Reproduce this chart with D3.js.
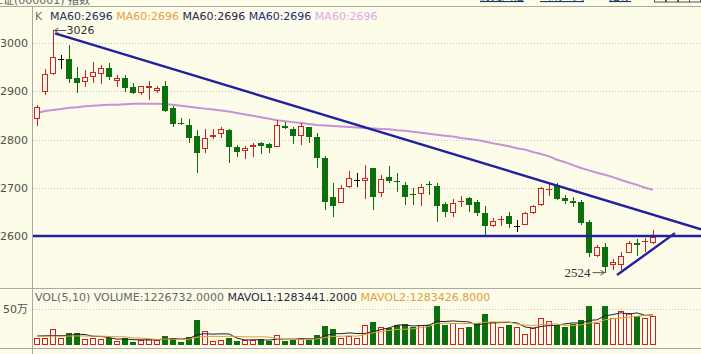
<!DOCTYPE html>
<html>
<head>
<meta charset="utf-8">
<script src="https://cdn.jsdelivr.net/npm/d3@7"></script>
<style>
  html, body { margin: 0; padding: 0; background: #fcfce9; }
  svg { display: block; }
</style>
</head>
<body>
<div id="chart"></div>
<script>
// daily candles
const opens = [2842,2899,2936,2967,2967,2927,2919,2930,2936,2948, 2921,2927,2909,2896,2907,2901,2911,2865,2835,2830,
  2807,2780,2805,2811,2820,2784,2776,2784,2793,2791, 2784,2828,2822,2807,2826,2805,2762,2681,2668,2702,
  2716,2714,2741,2689,2722,2713,2706,2688,2687,2707, 2704,2666,2648,2671,2679,2671,2648,2621,2633,2641,
  2621,2623,2648,2664,2695,2706,2679,2673,2670,2629, 2559,2577,2540,2540,2565,2586,2587,2586];
const closes = [2867,2936,2971,2967,2925,2917,2930,2940,2948,2930, 2927,2907,2896,2911,2910,2907,2859,2832,2833,2803,
  2772,2803,2809,2822,2784,2774,2782,2789,2787,2782, 2830,2824,2807,2828,2805,2762,2670,2662,2699,2720,
  2716,2720,2681,2718,2714,2711,2681,2686,2702,2705, 2662,2650,2668,2673,2664,2648,2621,2631,2635,2625,
  2621,2648,2662,2699,2697,2677,2673,2668,2627,2565, 2577,2536,2546,2559,2586,2581,2589,2598];
const highs = [2871,2946,3026,2975,2996,2950,2944,2961,2954,2959, 2934,2934,2917,2911,2921,2911,2921,2869,2845,2842,
  2820,2822,2822,2826,2822,2789,2787,2793,2795,2793, 2840,2836,2826,2834,2826,2813,2766,2710,2706,2735,
  2731,2747,2741,2726,2745,2731,2712,2699,2708,2714, 2710,2670,2677,2683,2681,2675,2662,2637,2641,2650,
  2633,2650,2664,2702,2710,2710,2685,2681,2675,2633, 2581,2585,2552,2567,2590,2594,2596,2612];
const lows = [2828,2892,2933,2946,2917,2896,2909,2917,2915,2923, 2909,2898,2894,2892,2882,2896,2857,2826,2830,2793,
  2731,2772,2801,2803,2751,2764,2760,2764,2770,2772, 2784,2822,2791,2789,2793,2741,2654,2639,2668,2699,
  2702,2677,2654,2681,2710,2691,2664,2664,2662,2685, 2629,2639,2639,2660,2650,2641,2602,2619,2621,2617,
  2608,2623,2646,2662,2683,2675,2666,2660,2623,2556, 2556,2524,2530,2530,2565,2559,2567,2583];
const ma60 = [2855,2859,2861,2863,2866,2867,2869,2870,2871,2872, 2872,2873,2874,2874,2874,2874,2873,2872,2870,2868,
  2866,2864,2862,2860,2858,2855,2852,2849,2846,2843, 2840,2838,2836,2834,2832,2830,2829,2828,2827,2826,
  2825,2824,2823,2822,2821,2819,2818,2816,2814,2812, 2810,2808,2806,2803,2801,2799,2796,2792,2789,2786,
  2782,2779,2774,2770,2765,2758,2753,2747,2741,2736, 2731,2727,2722,2716,2711,2706,2700,2696];

// volume in 万
const volumes = [9.3,9.3,21.8,9.3,17.1,17.1,7.9,9.3,7.9,9.3, 6,9.3,4.6,6.9,8.3,6.9,12.5,9.3,4.6,10.6,
  34.7,19.4,6,6.9,9.3,6,6.9,6.9,7.9,6, 13.9,6,6.9,9.3,6.9,13.9,26.4,21.8,9.3,12.5,
  9.3,27.8,32.4,25.5,24,27.8,29.2,25.5,27.8,27.8, 54.2,27.8,30.1,23.1,25.5,30.1,43,31.5,25.5,27.8,
  25.5,15.3,23.1,37,33.8,27.8,25.5,29.2,34.7,54.2, 31,54.2,37,47.7,44,40.3,37,40.3];
const mavol1 = [12.5,12.8,13.2,13.0,13.4,14.9,14.6,12.1,11.9,10.3, 8.1,8.4,7.4,7.2,7.0,7.2,7.8,8.8,8.3,8.8,
  14.3,15.7,15.1,15.5,15.3,9.5,7.0,7.2,7.4,6.7, 8.3,8.1,8.1,8.4,8.6,8.6,12.7,15.7,15.7,16.8,
  15.9,16.1,18.3,21.5,23.8,27.5,27.8,26.4,26.9,27.6, 32.9,32.6,33.5,32.6,32.1,27.3,30.4,30.6,31.1,31.6,
  30.7,25.1,23.4,25.7,26.9,27.4,29.4,30.7,30.2,34.3, 34.9,40.7,42.2,44.8,42.8,44.6,41.2,41.9];
const mavol2 = [12.0,12.1,12.3,12.2,12.4,12.6,12.5,12.3,12.2,11.9, 11.5,11.5,9.8,9.6,8.7,7.7,8.1,8.1,7.8,7.9,
  10.8,11.8,12.0,11.9,12.1,11.9,11.4,11.2,11.5,11.0, 8.9,7.6,7.7,7.9,7.7,8.5,10.4,11.9,12.1,12.7,
  12.3,14.4,17.0,18.6,20.3,21.7,22.0,22.4,24.2,25.7, 30.2,30.2,30.0,29.8,29.9,30.1,31.5,32.1,31.9,31.9,
  29.0,27.8,27.0,28.4,29.3,29.1,27.3,27.1,28.0,30.6, 31.2,35.1,36.5,37.5,38.6,39.8,41.0,42.1];

const priceTicks = [3000, 2900, 2800, 2700, 2600];
const volTicks = [50];

// drawn lines: [index, price] pairs
const trendLines = [
  { from: [2.25, 3020], to: [83, 2614] },
  { from: [-1, 2600], to: [83, 2600] },
  { from: [72.5, 2519], to: [79.75, 2606] }
];

const legendItems = ["MA60:2696", "MA60:2696", "MA60:2696", "MA60:2696", "MA60:2696"];
const legendColors = ["#26305a", "#e8a040", "#2c1e4e", "#1e2a78", "#e0a8e8"];
const volItems = ["VOL(5,10) VOLUME:1226732.0000", "MAVOL1:1283441.2000", "MAVOL2:1283426.8000"];
const volColors = ["#666666", "#1e2a48", "#e0a040"];

const W = 701, H = 354;
const BG = "#fcfce9", RED = "#d42020", GREEN = "#0c700c", FRAME = "#a8a8a8";

const svg = d3.select("#chart").append("svg")
  .attr("width", W).attr("height", H)
  .style("font-family", "'DejaVu Sans', 'Noto Sans CJK SC', sans-serif");

svg.append("rect").attr("width", W).attr("height", H).attr("fill", BG);

svg.append("clipPath").attr("id", "clipP")
  .append("rect").attr("x", 33).attr("y", 7).attr("width", W - 33).attr("height", 281);

const idx = d3.range(opens.length);
const x = d3.scaleBand().domain(idx).range([33, 657]).paddingInner(0.25).paddingOuter(0.125);
const bw = x.bandwidth();
const cx = i => Math.floor(x(i) + bw / 2) + 0.5;
const xi = d3.scaleLinear().domain([0, 1]).range([x(0) + bw / 2, x(1) + bw / 2]);
const y = d3.scaleLinear().domain([2600, 3000]).range([236, 43]);
const yv = d3.scaleLinear().domain([0, 50]).range([345, 309]);

// header strip (cut off at top, as in the original)
svg.append("text").attr("x", -8).attr("y", 4).attr("font-size", 11).attr("fill", "#666")
  .text("上证(000001) 指数");
[["历史回忆", 480], ["画线工具", 540], ["指标", 609]].forEach(([t, px]) => {
  svg.append("text").attr("x", px).attr("y", 0).attr("font-size", 11).attr("fill", "#1a3a6a")
    .style("text-decoration", "underline").text(t);
});
[654, 666, 678, 689].forEach(px => {
  svg.append("rect").attr("x", px + 0.5).attr("y", -8).attr("width", 11).attr("height", 10)
    .attr("fill", "none").attr("stroke", "#555");
});

// frame
svg.append("line").attr("x1", 0).attr("x2", W).attr("y1", 6.5).attr("y2", 6.5).attr("stroke", FRAME);
svg.append("line").attr("x1", 0).attr("x2", W).attr("y1", 288.5).attr("y2", 288.5).attr("stroke", FRAME);
svg.append("line").attr("x1", 0).attr("x2", W).attr("y1", 348.5).attr("y2", 348.5).attr("stroke", FRAME);
svg.append("line").attr("x1", 32.5).attr("x2", 32.5).attr("y1", 6.5).attr("y2", H).attr("stroke", FRAME);

// grid
svg.append("g").selectAll("line").data(priceTicks).join("line")
  .attr("x1", 33).attr("x2", W)
  .attr("y1", d => Math.round(y(d)) + 0.5).attr("y2", d => Math.round(y(d)) + 0.5)
  .attr("stroke", "#c4c4c4").attr("stroke-dasharray", "1,2");
svg.append("g").selectAll("line").data(volTicks).join("line")
  .attr("x1", 33).attr("x2", W)
  .attr("y1", d => Math.round(yv(d)) + 0.5).attr("y2", d => Math.round(yv(d)) + 0.5)
  .attr("stroke", "#c4c4c4").attr("stroke-dasharray", "1,2");

// axes
const yAxis = svg.append("g").attr("transform", "translate(32,0)")
  .call(d3.axisLeft(y).tickValues(priceTicks).tickSize(0).tickPadding(4).tickFormat(d3.format("d")));
const vAxis = svg.append("g").attr("transform", "translate(32,0)")
  .call(d3.axisLeft(yv).tickValues(volTicks).tickSize(0).tickPadding(4).tickFormat(d => d + "万"));
[yAxis, vAxis].forEach(a => {
  a.select(".domain").remove();
  a.selectAll("text").attr("fill", "#505050").attr("font-size", 11)
    .attr("font-family", "'DejaVu Sans', 'Noto Sans CJK SC', sans-serif");
});

// legends
svg.append("text").attr("x", 35).attr("y", 20).attr("font-size", 11).attr("fill", "#707070").text("K");
const leg = svg.append("text").attr("x", 50).attr("y", 20).attr("font-size", 11).style("white-space", "pre");
legendItems.forEach((t, k) => leg.append("tspan").attr("fill", legendColors[k]).text((k ? " " : "") + t));

const vleg = svg.append("text").attr("x", 35).attr("y", 301).attr("font-size", 11).style("white-space", "pre");
volItems.forEach((t, k) => vleg.append("tspan").attr("fill", volColors[k]).text((k ? " " : "") + t));

// price panel
const gp = svg.append("g").attr("clip-path", "url(#clipP)");

gp.append("path").datum(ma60)
  .attr("fill", "none").attr("stroke", "#c890d8").attr("stroke-width", 2)
  .attr("d", d3.line().x((d, i) => xi(i)).y(d => y(d)));

const colorOf = i => closes[i] > opens[i] ? RED : closes[i] < opens[i] ? GREEN : "#000";

gp.selectAll(".wick").data(idx).join("line")
  .attr("class", "wick")
  .attr("x1", cx).attr("x2", cx)
  .attr("y1", i => Math.round(y(highs[i]))).attr("y2", i => Math.round(y(lows[i])))
  .attr("stroke", colorOf);

gp.selectAll(".body").data(idx).join("rect")
  .attr("class", "body")
  .each(function (i) {
    const top = Math.round(y(Math.max(opens[i], closes[i])));
    const bot = Math.round(y(Math.min(opens[i], closes[i])));
    const h = bot - top;
    const c = colorOf(i);
    const r = d3.select(this);
    if (h < 2) {
      r.attr("x", x(i)).attr("y", top).attr("width", bw).attr("height", 1).attr("fill", c);
    } else if (c === RED) {
      r.attr("x", x(i) + 0.5).attr("y", top + 0.5).attr("width", bw - 1).attr("height", h - 1)
        .attr("fill", BG).attr("stroke", RED);
    } else {
      r.attr("x", x(i)).attr("y", top).attr("width", bw).attr("height", h).attr("fill", c);
    }
  });

gp.selectAll(".trend").data(trendLines).join("line")
  .attr("class", "trend")
  .attr("x1", d => xi(d.from[0])).attr("y1", d => y(d.from[1]))
  .attr("x2", d => xi(d.to[0])).attr("y2", d => y(d.to[1]))
  .attr("stroke", "#2020a0").attr("stroke-width", 2.4);

// high / low marks
const hiIdx = highs.indexOf(d3.max(highs));
const loIdx = lows.indexOf(d3.min(lows));
const hy = y(highs[hiIdx]), hx = cx(hiIdx) + 1;
svg.append("path").attr("d", `M${hx},${hy}H${hx + 12}M${hx},${hy}l4,-2.5M${hx},${hy}l4,2.5`)
  .attr("stroke", "#555").attr("fill", "none");
svg.append("text").attr("x", hx + 12).attr("y", hy).attr("dy", "0.36em")
  .attr("font-size", 11).attr("fill", "#333").text(highs[hiIdx]);
const ly = y(lows[loIdx]), lx = cx(loIdx) - 1;
svg.append("path").attr("d", `M${lx},${ly}H${lx - 12}M${lx},${ly}l-4,-2.5M${lx},${ly}l-4,2.5`)
  .attr("stroke", "#555").attr("fill", "none");
svg.append("text").attr("x", lx - 14).attr("y", ly).attr("dy", "0.36em").attr("text-anchor", "end")
  .attr("font-size", 13).attr("font-family", "'Liberation Serif', serif").attr("fill", "#333")
  .text(lows[loIdx]);

// volume panel
const gv = svg.append("g");
gv.selectAll("rect").data(idx).join("rect")
  .each(function (i) {
    const top = Math.round(yv(volumes[i]));
    const h = Math.round(yv(0)) - top;
    const r = d3.select(this);
    if (closes[i] >= opens[i]) {
      r.attr("x", x(i) + 0.5).attr("y", top + 0.5).attr("width", bw - 1).attr("height", h - 1)
        .attr("fill", BG).attr("stroke", RED);
    } else {
      r.attr("x", x(i)).attr("y", top).attr("width", bw).attr("height", h).attr("fill", GREEN);
    }
  });

[[mavol1, "#1e2040"], [mavol2, "#e0a030"]].forEach(([arr, c]) => {
  gv.append("path").datum(arr)
    .attr("fill", "none").attr("stroke", c).attr("stroke-width", 1)
    .attr("d", d3.line().x((d, i) => xi(i)).y(d => yv(d)));
});
</script>
</body>
</html>
